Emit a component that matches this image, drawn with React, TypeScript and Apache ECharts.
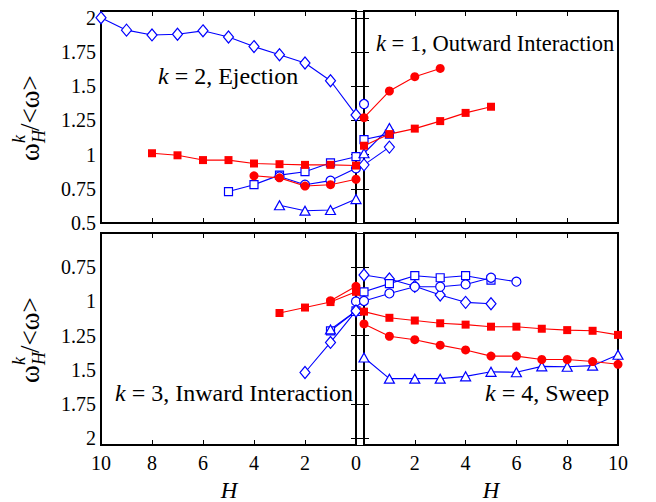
import { useEffect, useRef } from 'react';
import * as echarts from 'echarts';

// ---------- data ----------
// k = 2, Ejection (top-left)
const ejDiamondH = [10, 9, 8, 7, 6, 5, 4, 3, 2, 1, 0];
const ejDiamond = [2.0, 1.91, 1.875, 1.88, 1.905, 1.86, 1.79, 1.73, 1.67, 1.54, 1.29];
const ejSquareH = [5, 4, 3, 2, 1, 0];
const ejSquare = [0.73, 0.78, 0.85, 0.875, 0.94, 0.985];
const ejCircleH = [3, 2, 1, 0];
const ejCircle = [0.84, 0.78, 0.81, 0.9];
const ejTriangleH = [3, 2, 1, 0];
const ejTriangle = [0.63, 0.59, 0.595, 0.675];
const ejRedSquareH = [8, 7, 6, 5, 4, 3, 2, 1, 0];
const ejRedSquare = [1.01, 0.995, 0.96, 0.96, 0.935, 0.93, 0.925, 0.925, 0.92];
const ejRedCircleH = [4, 3, 2, 1, 0];
const ejRedCircle = [0.845, 0.83, 0.77, 0.78, 0.82];

// k = 1, Outward Interaction (top-right)
const ouCircleH = [0];
const ouCircle = [1.37];
const ouSquareH = [0, 1];
const ouSquare = [1.11, 1.15];
const ouTriangleH = [0, 1];
const ouTriangle = [1.01, 1.195];
const ouDiamondH = [0, 1];
const ouDiamond = [0.925, 1.055];
const ouRedCircleH = [0, 1, 2, 3];
const ouRedCircle = [1.27, 1.465, 1.57, 1.63];
const ouRedSquareH = [0, 1, 2, 3, 4, 5];
const ouRedSquare = [1.065, 1.15, 1.19, 1.245, 1.305, 1.35];

// k = 3, Inward Interaction (bottom-left)
const inCircleH = [0];
const inCircle = [1.0];
const inSquareH = [1, 0];
const inSquare = [1.215, 1.07];
const inTriangleH = [1, 0];
const inTriangle = [1.205, 1.07];
const inDiamondH = [2, 1, 0];
const inDiamond = [1.52, 1.3, 1.07];
const inRedSquareH = [3, 2, 1, 0];
const inRedSquare = [1.085, 1.045, 1.005, 0.93];
const inRedCircleH = [1, 0];
const inRedCircle = [0.995, 0.89];

// k = 4, Sweep (bottom-right)
const swDiamondH = [0, 1, 2, 3, 4, 5];
const swDiamond = [0.807, 0.836, 0.89, 0.953, 1.007, 1.017];
const swSquareH = [0, 1, 2, 3, 4, 5];
const swSquare = [0.93, 0.87, 0.812, 0.827, 0.812, 0.845];
const swCircleH = [0, 1, 2, 3, 4, 5, 6];
const swCircle = [0.997, 0.942, 0.893, 0.893, 0.876, 0.827, 0.856];
const swTriangleH = [0, 1, 2, 3, 4, 5, 6, 7, 8, 9, 10];
const swTriangle = [1.41, 1.565, 1.565, 1.565, 1.548, 1.515, 1.518, 1.475, 1.478, 1.47, 1.39];
const swRedSquareH = [0, 1, 2, 3, 4, 5, 6, 7, 8, 9, 10];
const swRedSquare = [1.075, 1.12, 1.14, 1.16, 1.17, 1.185, 1.185, 1.2, 1.21, 1.215, 1.245];
const swRedCircleH = [0, 1, 2, 3, 4, 5, 6, 7, 8, 9, 10];
const swRedCircle = [1.165, 1.255, 1.28, 1.32, 1.355, 1.4, 1.4, 1.425, 1.425, 1.44, 1.46];

const xTicks = [0, 2, 4, 6, 8, 10];
const yTicksFull = [0.5, 0.75, 1, 1.25, 1.5, 1.75, 2];
const yTicksLower = [0.75, 1, 1.25, 1.5, 1.75, 2];

const panelTitles = [
  { k: '2', name: 'Ejection' },
  { k: '1', name: 'Outward Interaction' },
  { k: '3', name: 'Inward Interaction' },
  { k: '4', name: 'Sweep' },
];

// ---------- styling ----------
const FONT = "'Liberation Serif', 'Times New Roman', serif";
const BLUE = '#0000ff';
const RED = '#ff0000';

type Kind = 'diamond' | 'square' | 'circle' | 'triangle' | 'redSquare' | 'redCircle';

function makeSeries(name: string, hs: number[], vs: number[], panel: number, kind: Kind) {
  const red = kind === 'redSquare' || kind === 'redCircle';
  const symbol =
    kind === 'diamond' ? 'diamond' :
    kind === 'square' || kind === 'redSquare' ? 'rect' :
    kind === 'triangle' ? 'triangle' : 'circle';
  const size =
    kind === 'diamond' ? [10, 12] :
    kind === 'square' ? 8 :
    kind === 'redSquare' ? 8 :
    kind === 'triangle' ? [10, 9] : 9;
  return {
    name,
    type: 'line',
    xAxisIndex: panel * 2,
    yAxisIndex: panel * 2,
    data: hs.map((h, i) => [h, vs[i]]),
    symbol,
    symbolSize: size,
    showSymbol: true,
    clip: false,
    lineStyle: { color: red ? RED : BLUE, width: 1.1 },
    itemStyle: red
      ? { color: RED, borderWidth: 0 }
      : { color: '#ffffff', borderColor: BLUE, borderWidth: 1.2 },
    emphasis: { disabled: true },
    z: red ? 3 : 2,
  };
}

export default function App() {
  const ref = useRef<HTMLDivElement>(null);

  useEffect(() => {
    if (!ref.current) return;
    const chart = echarts.init(ref.current, undefined, { renderer: 'svg' });

    const panels = [
      { left: 101, top: 11, width: 255, height: 212, xInv: true, yInv: false, xLab: false, yLab: true },
      { left: 364, top: 11, width: 254, height: 212, xInv: false, yInv: false, xLab: false, yLab: false },
      { left: 101, top: 233, width: 255, height: 212, xInv: true, yInv: true, xLab: true, yLab: true },
      { left: 364, top: 233, width: 254, height: 212, xInv: false, yInv: true, xLab: true, yLab: false },
    ];

    const near = (v: number, list: number[]) => list.some((t) => Math.abs(t - v) < 1e-6);

    const grids = panels.map((p) => ({
      left: p.left, top: p.top, width: p.width, height: p.height,
      show: true, borderColor: '#000', borderWidth: 2, backgroundColor: '#fff',
      containLabel: false,
    }));

    const tick = { show: true, inside: true, length: 5, lineStyle: { color: '#000', width: 1 } };

    const xAxes: any[] = [];
    const yAxes: any[] = [];
    panels.forEach((p, i) => {
      const xLabels = i === 3 ? xTicks.filter((t) => t !== 0) : xTicks;
      const baseX = {
        type: 'value', gridIndex: i, min: 0, max: 10, interval: 2, inverse: p.xInv,
        axisLine: { show: false }, splitLine: { show: false }, axisTick: tick,
      };
      xAxes.push({
        ...baseX, position: 'bottom',
        axisLabel: {
          show: p.xLab, margin: 8, color: '#000', fontSize: 20, fontFamily: FONT,
          formatter: (v: number) => (near(v, xLabels) ? String(v) : ''),
        },
      });
      xAxes.push({ ...baseX, position: 'top', axisLabel: { show: false } });

      const yLabels = p.yInv ? yTicksLower : yTicksFull;
      const baseY = {
        type: 'value', gridIndex: i, min: 0.5, max: 2.05, interval: 0.25, inverse: p.yInv,
        axisLine: { show: false }, splitLine: { show: false }, axisTick: tick,
      };
      yAxes.push({
        ...baseY, position: 'left',
        axisLabel: {
          show: p.yLab, margin: 5, color: '#000', fontSize: 20, fontFamily: FONT,
          formatter: (v: number) => (near(v, yLabels) ? String(v) : ''),
        },
      });
      yAxes.push({ ...baseY, position: 'right', axisLabel: { show: false } });
    });

    const series = [
      makeSeries('ejDiamond', ejDiamondH, ejDiamond, 0, 'diamond'),
      makeSeries('ejSquare', ejSquareH, ejSquare, 0, 'square'),
      makeSeries('ejCircle', ejCircleH, ejCircle, 0, 'circle'),
      makeSeries('ejTriangle', ejTriangleH, ejTriangle, 0, 'triangle'),
      makeSeries('ejRedSquare', ejRedSquareH, ejRedSquare, 0, 'redSquare'),
      makeSeries('ejRedCircle', ejRedCircleH, ejRedCircle, 0, 'redCircle'),

      makeSeries('ouCircle', ouCircleH, ouCircle, 1, 'circle'),
      makeSeries('ouSquare', ouSquareH, ouSquare, 1, 'square'),
      makeSeries('ouTriangle', ouTriangleH, ouTriangle, 1, 'triangle'),
      makeSeries('ouDiamond', ouDiamondH, ouDiamond, 1, 'diamond'),
      makeSeries('ouRedCircle', ouRedCircleH, ouRedCircle, 1, 'redCircle'),
      makeSeries('ouRedSquare', ouRedSquareH, ouRedSquare, 1, 'redSquare'),

      makeSeries('inCircle', inCircleH, inCircle, 2, 'circle'),
      makeSeries('inSquare', inSquareH, inSquare, 2, 'square'),
      makeSeries('inTriangle', inTriangleH, inTriangle, 2, 'triangle'),
      makeSeries('inDiamond', inDiamondH, inDiamond, 2, 'diamond'),
      makeSeries('inRedSquare', inRedSquareH, inRedSquare, 2, 'redSquare'),
      makeSeries('inRedCircle', inRedCircleH, inRedCircle, 2, 'redCircle'),

      makeSeries('swDiamond', swDiamondH, swDiamond, 3, 'diamond'),
      makeSeries('swSquare', swSquareH, swSquare, 3, 'square'),
      makeSeries('swCircle', swCircleH, swCircle, 3, 'circle'),
      makeSeries('swTriangle', swTriangleH, swTriangle, 3, 'triangle'),
      makeSeries('swRedSquare', swRedSquareH, swRedSquare, 3, 'redSquare'),
      makeSeries('swRedCircle', swRedCircleH, swRedCircle, 3, 'redCircle'),
    ];

    const titlePos = [
      { x: 158, y: 76, size: 24 },
      { x: 376, y: 43, size: 22.5 },
      { x: 115, y: 393, size: 24 },
      { x: 485, y: 393, size: 24 },
    ];
    const titleText = panelTitles.map((t, i) => ({
      type: 'text',
      x: titlePos[i].x,
      y: titlePos[i].y,
      z: 10,
      style: {
        text: `{i|k} = ${t.k}, ${t.name}`,
        fontSize: titlePos[i].size,
        fontFamily: FONT,
        fill: '#000',
        align: 'left',
        verticalAlign: 'middle',
        rich: { i: { fontStyle: 'italic', fontSize: titlePos[i].size, fontFamily: FONT, fill: '#000' } },
      },
    }));

    const yName = (cy: number) => ({
      type: 'group',
      x: 30,
      y: cy + 44,
      rotation: Math.PI / 2,
      children: [
        { type: 'text', x: 0, y: 0, style: { text: 'ω', fontSize: 27, fontFamily: FONT, fill: '#000', verticalAlign: 'middle' } },
        { type: 'text', x: 18, y: -11, style: { text: 'k', fontSize: 18, fontStyle: 'italic', fontFamily: FONT, fill: '#000', verticalAlign: 'middle' } },
        { type: 'text', x: 18, y: 9, style: { text: 'H', fontSize: 18, fontStyle: 'italic', fontFamily: FONT, fill: '#000', verticalAlign: 'middle' } },
        { type: 'text', x: 30, y: 0, style: { text: '/<ω>', fontSize: 27, fontFamily: FONT, fill: '#000', verticalAlign: 'middle' } },
      ],
    });

    const xName = (cx: number) => ({
      type: 'text',
      x: cx,
      y: 490,
      style: { text: 'H', fontSize: 23, fontStyle: 'italic', fontFamily: FONT, fill: '#000', align: 'center', verticalAlign: 'middle' },
    });

    chart.setOption({
      animation: false,
      backgroundColor: '#fff',
      grid: grids,
      xAxis: xAxes,
      yAxis: yAxes,
      series,
      graphic: [...titleText, yName(117), yName(339), xName(229), xName(491)],
    });

    return () => chart.dispose();
  }, []);

  return (
    <div
      ref={ref}
      style={{ position: 'absolute', left: 0, top: 0, width: 656, height: 502, background: '#fff' }}
    />
  );
}
